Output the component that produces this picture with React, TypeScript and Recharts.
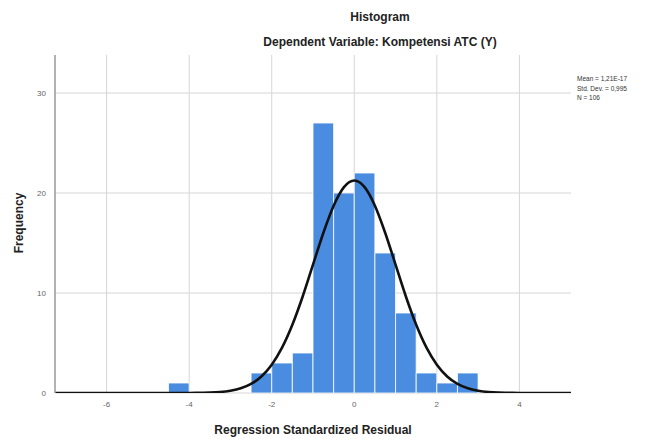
import React from 'react';
import { ComposedChart, Bar, Line, XAxis, YAxis, CartesianGrid } from 'recharts';

// histogram bins (width 0.5), centre of each bin and its count
const binCenters = [-4.25, -3.75, -3.25, -2.75, -2.25, -1.75, -1.25, -0.75, -0.25, 0.25, 0.75, 1.25, 1.75, 2.25, 2.75];
const binCounts = [1, 0, 0, 0, 2, 3, 4, 27, 20, 22, 14, 8, 2, 1, 2];

// normal curve
const curveX = [-7.25, -6, -5, -4.5, -4, -3.75, -3.5, -3.25, -3, -2.75, -2.5, -2.25, -2, -1.75, -1.5, -1.25, -1, -0.75, -0.5, -0.25, 0, 0.25, 0.5, 0.75, 1, 1.25, 1.5, 1.75, 2, 2.25, 2.5, 2.75, 3, 3.25, 3.5, 3.75, 4, 4.5, 5.25];
const curveY = [0, 0, 0, 0, 0, 0.02, 0.04, 0.1, 0.23, 0.47, 0.91, 1.65, 2.82, 4.53, 6.82, 9.65, 12.83, 16.0, 18.73, 20.59, 21.25, 20.59, 18.73, 16.0, 12.83, 9.65, 6.82, 4.53, 2.82, 1.65, 0.91, 0.47, 0.23, 0.1, 0.04, 0.02, 0, 0, 0];

const xTicks = [-6, -4, -2, 0, 2, 4];
const yTicks = [0, 10, 20, 30];
const statLines = ['Mean = 1,21E-17', 'Std. Dev. = 0,995', 'N = 106'];

const FONT = 'Arial, "Liberation Sans", sans-serif';

export default function App() {
  const bins = binCenters.map((x, i) => ({ x, count: binCounts[i] }));
  const curve = curveX.map((x, i) => ({ x, y: curveY[i] }));

  return (
    <div style={{ position: 'absolute', left: 0, top: 0, width: 652, height: 439, background: '#fff', fontFamily: FONT }}>
      <div style={{ position: 'absolute', left: 280, width: 200, top: 10, textAlign: 'center', fontSize: 12, fontWeight: 'bold', color: '#222' }}>
        Histogram
      </div>
      <div style={{ position: 'absolute', left: 180, width: 400, top: 35, textAlign: 'center', fontSize: 12, fontWeight: 'bold', color: '#222' }}>
        Dependent Variable: Kompetensi ATC (Y)
      </div>
      <div style={{ position: 'absolute', left: 577, top: 74, fontSize: 6.5, lineHeight: '9.5px', color: '#333', whiteSpace: 'nowrap' }}>
        {statLines.map((s) => (
          <div key={s}>{s}</div>
        ))}
      </div>
      <div style={{ position: 'absolute', left: 163, width: 300, top: 423, textAlign: 'center', fontSize: 12, fontWeight: 'bold', color: '#222' }}>
        Regression Standardized Residual
      </div>
      <div
        style={{
          position: 'absolute', left: 20, top: 223, width: 100, marginLeft: -50, marginTop: -8, height: 16,
          textAlign: 'center', fontSize: 12, fontWeight: 'bold', color: '#222', transform: 'rotate(-90deg)',
        }}
      >
        Frequency
      </div>
      <ComposedChart
        width={652}
        height={439}
        data={bins}
        margin={{ top: 55, right: 81, left: 10, bottom: 0 }}
        style={{ position: 'absolute', left: 0, top: 0 }}
      >
        <CartesianGrid
          stroke="#d6d6d6"
          strokeWidth={1}
          xAxisId="bins"
          horizontalValues={yTicks}
          verticalValues={xTicks}
        />
        <XAxis
          xAxisId="bins"
          dataKey="x"
          type="number"
          domain={[-7.25, 5.25]}
          ticks={xTicks}
          allowDataOverflow
          height={46}
          tickLine={false}
          axisLine={false}
          tick={{ fontSize: 8, fill: '#666', fontFamily: FONT }}
          tickMargin={2}
        />
        <XAxis xAxisId="curve" dataKey="x" type="number" domain={[-7.25, 5.25]} allowDataOverflow hide />
        <YAxis
          type="number"
          domain={[0, 33.8]}
          ticks={yTicks}
          allowDataOverflow
          width={45}
          tickLine={false}
          axisLine={{ stroke: '#999', strokeWidth: 1.5 }}
          tick={{ fontSize: 8, fill: '#666', fontFamily: FONT }}
          tickMargin={3}
        />
        <Bar xAxisId="bins" dataKey="count" fill="#4a8de0" stroke="#fff" strokeWidth={0.8} barSize={20.6} isAnimationActive={false} />
        <Line
          xAxisId="curve"
          data={curve}
          dataKey="y"
          type="monotone"
          stroke="#111"
          strokeWidth={2.6}
          dot={false}
          activeDot={false}
          isAnimationActive={false}
        />
      </ComposedChart>
    </div>
  );
}
